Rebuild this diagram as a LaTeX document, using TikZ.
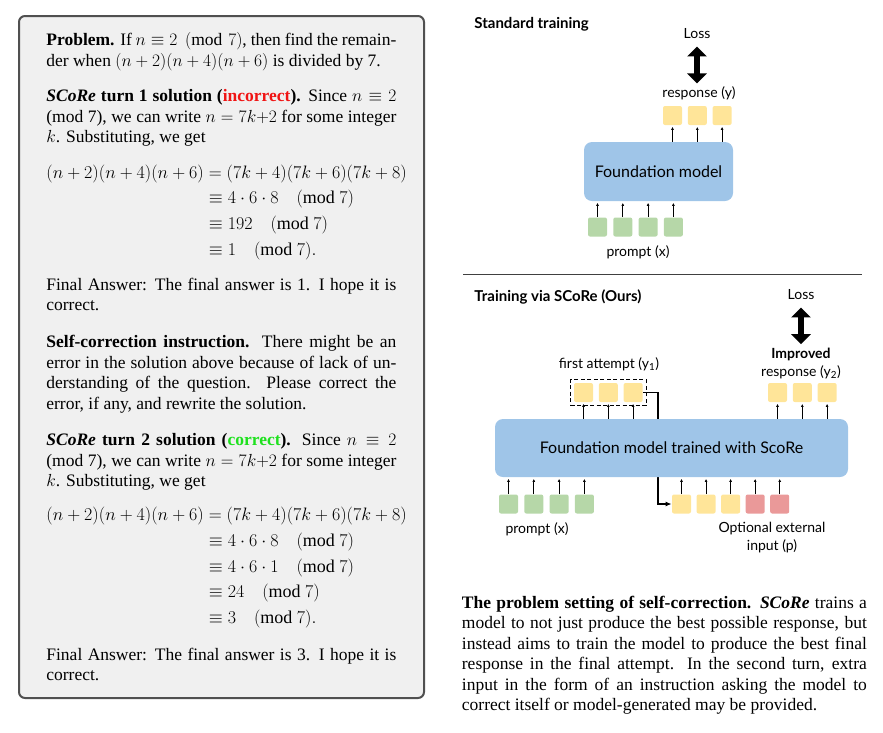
\documentclass[tikz,border=0pt]{standalone}
\usepackage{fix-cm}
\usepackage{amsmath}
\usepackage{fontspec}
\usepackage{xcolor}
\usepackage{tikz}
\usetikzlibrary{arrows.meta, positioning, fit, calc}

\setmainfont{Liberation Serif}
\newfontfamily\diagfont{Lato}
\definecolor{fmblue}{RGB}{159,197,232}
\definecolor{tokyellow}{RGB}{255,229,153}
\definecolor{tokgreen}{RGB}{182,215,168}
\definecolor{tokred}{RGB}{234,153,153}
\definecolor{panelgray}{RGB}{240,240,240}
\definecolor{paneledge}{RGB}{80,80,80}
\definecolor{okgreen}{RGB}{30,225,30}
\definecolor{badred}{RGB}{240,20,20}

\begin{document}
\begin{tikzpicture}[x=1pt, y=-1pt, >=Latex, thick]
    % Define styles locally
    \tikzstyle{tok} = [rectangle, rounded corners=2pt, minimum size=19pt, inner sep=0pt]
    \tikzstyle{fmodel} = [rectangle, rounded corners=8pt, fill=fmblue, inner sep=0pt, font=\diagfont\fontsize{16}{19}\selectfont]
    \tikzstyle{lbl} = [inner sep=1pt, align=center, font=\diagfont\fontsize{14}{18}\selectfont]
    \tikzstyle{heading} = [inner sep=0pt, anchor=west, font=\diagfont\bfseries\fontsize{15}{18}\selectfont]
    \tikzstyle{para} = [anchor=base west, inner sep=0pt, text width=350pt, align=justify, font=\fontsize{17.5}{20.5}\selectfont]
    \tikzstyle{eqn} = [anchor=base west, inner sep=0pt, font=\fontsize{18}{20.5}\selectfont]
    \tikzstyle{up} = [-{Latex[length=3pt,width=3pt]}, line width=0.8pt, shorten >=1.5pt]
    \tikzstyle{loss} = [line width=6.5pt, {Triangle[length=10pt,width=19pt]}-{Triangle[length=10pt,width=19pt]}]

    \useasboundingbox (0,0) rectangle (883,732);

    % Left panel: worked example
    \node[draw=paneledge, line width=2pt, fill=panelgray, rounded corners=6pt, anchor=north west,
          minimum width=405pt, minimum height=682pt, inner sep=0pt] (panel) at (18,15) {};

    \node[para] (prob) at (46,45.5) {\textbf{Problem.} If $n\equiv 2 \pmod 7$, then find the remain-\linebreak
        der when $(n+2)(n+4)(n+6)$ is divided by 7.};

    \node[para] (turn1) at (46,101.7) {\textbf{\textit{SCoRe} turn 1 solution (\textcolor{badred}{incorrect}).} Since $n\equiv 2$\linebreak
        (mod 7), we can write $n = 7k{+}2$ for some integer\linebreak
        $k$. Substituting, we get};

    \node[eqn] (eq1) at (46,178) {\setlength{\jot}{5.2pt}$\begin{aligned}[t]
        (n+2)(n+4)(n+6) &= (7k+4)(7k+6)(7k+8)\\
        &\equiv 4\cdot 6\cdot 8 \quad (\mathrm{mod}\ 7)\\
        &\equiv 192 \quad (\mathrm{mod}\ 7)\\
        &\equiv 1 \quad (\mathrm{mod}\ 7).
        \end{aligned}$};

    \node[para] (final1) at (46,290) {Final Answer: The final answer is 1. I hope it is\linebreak correct.};

    \node[para] (instr) at (46,347.7) {\textbf{Self-correction instruction.} There might be an\linebreak
        error in the solution above because of lack of un-\linebreak
        derstanding of the question. Please correct the\linebreak
        error, if any, and rewrite the solution.};

    \node[para] (turn2) at (46,445.7) {\textbf{\textit{SCoRe} turn 2 solution (\textcolor{okgreen}{correct}).} Since $n\equiv 2$\linebreak
        (mod 7), we can write $n = 7k{+}2$ for some integer\linebreak
        $k$. Substituting, we get};

    \node[eqn] (eq2) at (46,520.7) {\setlength{\jot}{5.2pt}$\begin{aligned}[t]
        (n+2)(n+4)(n+6) &= (7k+4)(7k+6)(7k+8)\\
        &\equiv 4\cdot 6\cdot 8 \quad (\mathrm{mod}\ 7)\\
        &\equiv 4\cdot 6\cdot 1 \quad (\mathrm{mod}\ 7)\\
        &\equiv 24 \quad (\mathrm{mod}\ 7)\\
        &\equiv 3 \quad (\mathrm{mod}\ 7).
        \end{aligned}$};

    \node[para] (final2) at (46,660) {Final Answer: The final answer is 3. I hope it is\linebreak correct.};

    % Standard training
    \node[heading] (std) at (474,24) {Standard training};
    \node[fmodel, minimum width=149pt, minimum height=59pt] (fm1) at (658.5,171.5) {Foundation model};

    \node[tok, fill=tokyellow] (y1) at (672.5,115.5) {};
    \node[tok, fill=tokyellow, right=5pt of y1] (y2) {};
    \node[tok, fill=tokyellow, right=5pt of y2] (y3) {};

    \node[tok, fill=tokgreen] (x1) at (597.5,227) {};
    \node[tok, fill=tokgreen, right=5.5pt of x1] (x2) {};
    \node[tok, fill=tokgreen, right=5.5pt of x2] (x3) {};
    \node[tok, fill=tokgreen, right=5.5pt of x3] (x4) {};

    \node[lbl] (resp1) at (699,93) {response (y)};
    \node[lbl] (loss1) at (697,34) {Loss};
    \node[lbl] (prompt1) at (638,252) {prompt (x)};

    \draw[loss, shorten <=6pt, shorten >=1.5pt] (loss1.south) -- (loss1.south |- resp1.north);

    \draw[up] (fm1.north -| y1) -- (y1);
    \draw[up] (fm1.north -| y2) -- (y2);
    \draw[up] (fm1.north -| y3) -- (y3);
    \draw[up] (x1) -- (x1 |- fm1.south);
    \draw[up] (x2) -- (x2 |- fm1.south);
    \draw[up] (x3) -- (x3 |- fm1.south);
    \draw[up] (x4) -- (x4 |- fm1.south);

    % Separator
    \draw[line width=0.8pt, black!75] (463,274) -- (862,274);

    % Training via SCoRe
    \node[heading] (ours) at (474,297) {Training via SCoRe (Ours)};

    % first attempt
    \node[tok, fill=tokyellow] (a1) at (583.5,392.5) {};
    \node[tok, fill=tokyellow, right=5pt of a1] (a2) {};
    \node[tok, fill=tokyellow, right=5pt of a2] (a3) {};
    \node[draw, line width=1pt, dash pattern=on 4pt off 2.5pt, fit=(a1)(a3), inner sep=3pt] (att) {};
    \node[lbl] (attlbl) at (609,364) {first attempt (y\textsubscript{1})};

    % improved response
    \node[tok, fill=tokyellow] (r1) at (777.5,392.5) {};
    \node[tok, fill=tokyellow, right=5pt of r1] (r2) {};
    \node[tok, fill=tokyellow, right=5pt of r2] (r3) {};
    \node[lbl] (resp2) at (801,363) {\textbf{Improved}\\response (y\textsubscript{2})};
    \node[lbl] (loss2) at (801,295) {Loss};
    \draw[loss, shorten <=6pt, shorten >=2pt] (loss2.south) -- (loss2.south |- resp2.north);

    % second turn input
    \node[tok, fill=tokyellow] (q1) at (681.5,504) {};
    \node[tok, fill=tokyellow, right=4.75pt of q1] (q2) {};
    \node[tok, fill=tokyellow, right=4.75pt of q2] (q3) {};
    \node[tok, fill=tokred, right=4.75pt of q3] (q4) {};
    \node[tok, fill=tokred, right=4.75pt of q4] (q5) {};
    \node[lbl] (extlbl) at (772,538) {Optional external\\input (p)};

    % prompt
    \node[tok, fill=tokgreen] (p1) at (508.5,504) {};
    \node[tok, fill=tokgreen, right=5.5pt of p1] (p2) {};
    \node[tok, fill=tokgreen, right=5.5pt of p2] (p3) {};
    \node[tok, fill=tokgreen, right=5.5pt of p3] (p4) {};
    \node[lbl] (prompt2) at (537,529) {prompt (x)};

    % First attempt fed back (runs behind the model)
    \coordinate (bend) at (658,448);
    \draw[line width=1.6pt, -{Latex[length=6pt,width=5pt]}] (a3.east) -| (bend) |- (q1.west);

    \node[fmodel, minimum width=353pt, minimum height=58pt] (fm2) at (671.5,448) {Foundation model trained with ScoRe};

    \draw[up] (fm2.north -| a1) -- (a1);
    \draw[up] (fm2.north -| a2) -- (a2);
    \draw[up] (fm2.north -| a3) -- (a3);
    \draw[up] (fm2.north -| r1) -- (r1);
    \draw[up] (fm2.north -| r2) -- (r2);
    \draw[up] (fm2.north -| r3) -- (r3);
    \draw[up] (p1) -- (p1 |- fm2.south);
    \draw[up] (p2) -- (p2 |- fm2.south);
    \draw[up] (p3) -- (p3 |- fm2.south);
    \draw[up] (p4) -- (p4 |- fm2.south);
    \draw[up] (q1) -- (q1 |- fm2.south);
    \draw[up] (q2) -- (q2 |- fm2.south);
    \draw[up] (q3) -- (q3 |- fm2.south);
    \draw[up] (q4) -- (q4 |- fm2.south);
    \draw[up] (q5) -- (q5 |- fm2.south);

    % Caption
    \node[para, text width=405pt] (caption) at (461.5,608) {\textbf{The problem setting of self-correction.} \textbf{\textit{SCoRe}} trains a\linebreak
        model to not just produce the best possible response, but\linebreak
        instead aims to train the model to produce the best final\linebreak
        response in the final attempt. In the second turn, extra\linebreak
        input in the form of an instruction asking the model to\linebreak
        correct itself or model-generated may be provided.};
\end{tikzpicture}
\end{document}
